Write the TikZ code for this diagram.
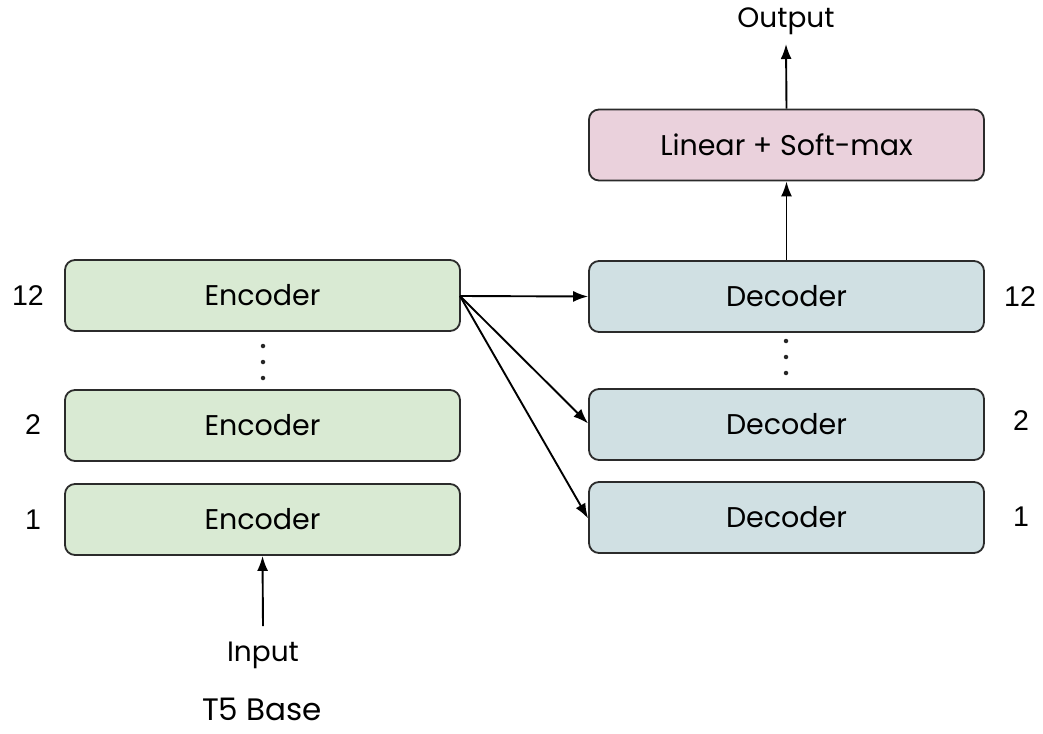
\documentclass[tikz,border=0pt]{standalone}
\usepackage{fontspec}
\setmainfont{Poppins}
\newfontfamily\numfont{Liberation Sans}
\usetikzlibrary{arrows.meta}
\definecolor{encfill}{HTML}{D9EAD3}
\definecolor{decfill}{HTML}{D0E0E3}
\definecolor{linfill}{HTML}{EAD1DC}
\definecolor{edge}{HTML}{2B2B2B}
\tikzset{
  block/.style={draw=edge, line width=1.8pt, rounded corners=10pt,
    minimum width=395pt, minimum height=71pt, inner sep=0pt,
    font=\fontsize{28.5}{32}\selectfont},
  encblock/.style={block, fill=encfill},
  decblock/.style={block, fill=decfill},
  linblock/.style={block, fill=linfill},
  layernum/.style={font=\numfont\fontsize{28.5}{32}\selectfont, inner sep=0pt},
  label/.style={font=\fontsize{28}{32}\selectfont, inner sep=0pt},
  flow/.style={line width=1.9pt, -{Latex[length=15pt,width=11pt]}},
  dot/.style={circle, fill=black!85, inner sep=0pt, minimum size=4.5pt}
}
\begin{document}
\begin{tikzpicture}[x=1pt,y=-1pt]
\useasboundingbox (0,0) rectangle (1043,733);

% encoder stack
\node[encblock] (e12) at (262.5,295.5) {Encoder};
\node[encblock] (e2)  at (262.5,425.5) {Encoder};
\node[encblock] (e1)  at (262.5,519.5) {Encoder};

% decoder stack and output head
\node[decblock] (d12) at (786.5,296.5) {Decoder};
\node[decblock] (d2)  at (786.5,424.5) {Decoder};
\node[decblock] (d1)  at (786.5,517.5) {Decoder};
\node[linblock] (lin) at (786.5,145)   {Linear + Soft-max};

% layer indices
\node[layernum] (ne12) at (28,296)   {12};
\node[layernum] (ne2)  at (33,425)   {2};
\node[layernum] (ne1)  at (33,520)   {1};
\node[layernum] (nd12) at (1020,297) {12};
\node[layernum] (nd2)  at (1021,421) {2};
\node[layernum] (nd1)  at (1021,517) {1};

% elided layers
\foreach \y in {346,362,378} \node[dot] at (263,\y) {};
\foreach \y in {341,357,373} \node[dot] at (786,\y) {};

% texts
\node[label] (out) at (786,21)  {Output};
\node[label] (in)  at (263,655) {Input};
\node[font=\fontsize{31}{35}\selectfont, inner sep=0pt] (title) at (262,709) {T5 Base};

% connectors
\coordinate (src) at (460,296);
\coordinate (inTop) at (263,626);
\draw[flow] (inTop) -- (e1.south);
\draw[flow] (d12.north) -- (lin.south);
\draw[flow] (lin.north) -- (786,44);
\draw[flow] (src) -- (d12.west);
\draw[flow] (src) -- ([yshift=1pt]d2.west);
\draw[flow] (src) -- ([yshift=-1pt]d1.west);
\end{tikzpicture}
\end{document}
